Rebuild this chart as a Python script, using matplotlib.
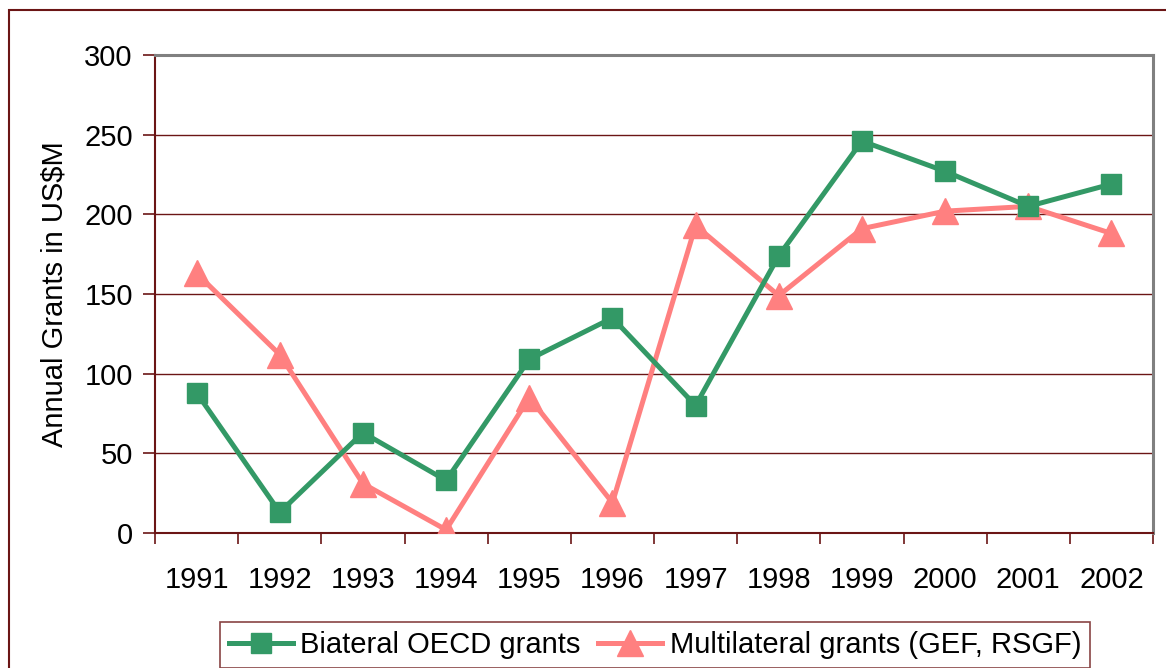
import matplotlib
matplotlib.use("Agg")
import matplotlib.pyplot as plt
from matplotlib.patches import Rectangle
import numpy as np

plt.rcParams["font.family"] = ["Liberation Sans", "DejaVu Sans"]

YEARS = ["1991", "1992", "1993", "1994", "1995", "1996",
         "1997", "1998", "1999", "2000", "2001", "2002"]
BILATERAL = [88, 13, 63, 33, 109, 135, 80, 174, 246, 227, 205, 219]
MULTILATERAL = [163, 112, 31, 2, 85, 19, 193, 149, 191, 202, 205, 188]
Y_TICKS = [0, 50, 100, 150, 200, 250, 300]

GREEN = "#339966"
PINK = "#FF8080"
DARKRED = "#6b1515"
GRAY = "#808080"
FS = 21

W, H = 1166, 668
fig = plt.figure(figsize=(W / 100, H / 100), dpi=100, facecolor="white")

# plot area in pixels: x 155..1153, y 55..533
left, right, top, bottom = 155, 1153, 55, 533
ax = fig.add_axes([left / W, 1 - bottom / H, (right - left) / W, (bottom - top) / H])

x = np.arange(len(YEARS))
ax.plot(x, BILATERAL, color=GREEN, lw=3.6, marker="s", ms=15,
        mec=GREEN, mfc=GREEN, label="Biateral OECD grants", zorder=4)
ax.plot(x, MULTILATERAL, color=PINK, lw=3.6, marker="^", ms=19,
        mec=PINK, mfc=PINK, label="Multilateral grants (GEF, RSGF)", zorder=3)

ax.set_xlim(-0.5, len(YEARS) - 0.5)
ax.set_ylim(0, 300)
ax.set_yticks(Y_TICKS)
ax.set_yticklabels([str(v) for v in Y_TICKS], fontsize=FS)
ax.set_xticks(x)
ax.set_xticklabels(YEARS, fontsize=FS)
ax.set_xticks(np.arange(-0.5, len(YEARS)), minor=True)
ax.tick_params(axis="x", which="major", length=0, pad=24)
ax.tick_params(axis="x", which="minor", length=8, width=1.2, color=DARKRED, direction="out")
ax.tick_params(axis="y", length=9, width=1.2, color=DARKRED, direction="out", pad=7)

ax.grid(axis="y", color=DARKRED, lw=1, zorder=1)
ax.set_axisbelow(True)
for side in ("left", "bottom"):
    ax.spines[side].set_color(DARKRED)
    ax.spines[side].set_linewidth(1.5)
for side in ("top", "right"):
    ax.spines[side].set_color(GRAY)
    ax.spines[side].set_linewidth(2.2)

ax.set_ylabel("Annual Grants in US$M", fontsize=FS, labelpad=11)

leg = fig.legend(loc="upper left", bbox_to_anchor=(220 / W, 1 - 622 / H),
                 ncol=2, fontsize=FS, frameon=True, fancybox=False,
                 edgecolor=DARKRED, handlelength=2.2, handletextpad=0.25,
                 columnspacing=0.6, borderpad=0.3, borderaxespad=0)
leg.get_frame().set_linewidth(1.2)

# outer chart border, clipped on the right and bottom
fig.patches.append(Rectangle((9 / W, -0.1), 1.2, 1 - 10 / H + 0.1,
                             transform=fig.transFigure, fill=False,
                             edgecolor=DARKRED, lw=1.5))

fig.savefig("out.png", dpi=100, facecolor="white")
